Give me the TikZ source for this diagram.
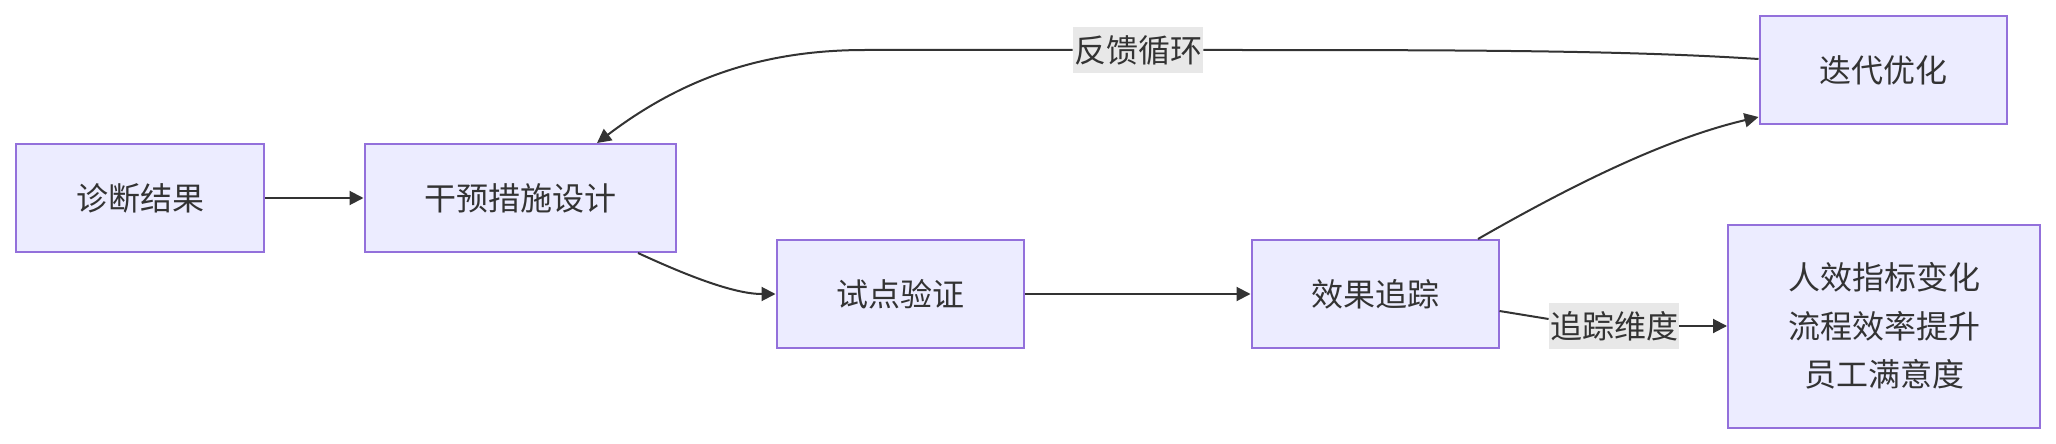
\documentclass[tikz,border=0pt]{standalone}
\usepackage{fontspec}
\usepackage{tikz}
\usetikzlibrary{positioning,calc,arrows.meta}
\newfontfamily\cjk{Noto Sans CJK SC}
\definecolor{boxfill}{RGB}{236,236,255}
\definecolor{boxline}{RGB}{147,112,219}
\definecolor{edgeline}{RGB}{51,51,51}
\definecolor{tagbg}{RGB}{232,232,232}
\tikzset{
  stage/.style={draw=boxline, fill=boxfill, line width=1pt, text=edgeline, minimum height=54pt, inner sep=0pt},
  flow/.style={draw=edgeline, line width=1pt, -{Triangle[length=7pt,width=7pt]}},
  plain/.style={draw=edgeline, line width=1pt},
  tag/.style={fill=tagbg, text=edgeline, inner sep=0.5pt, minimum height=23pt}
}

\begin{document}
\begin{tikzpicture}[x=0.5pt, y=-0.5pt, font=\cjk\fontsize{16}{24.25}\selectfont]
\useasboundingbox (0,0) rectangle (2056,444);
\node[stage, minimum width=124pt] (diag) at (140,198) {诊断结果};
\node[stage, minimum width=155.5pt] (design) at (520,198) {干预措施设计};
\node[stage, minimum width=123.5pt] (pilot) at (900,294) {试点验证};
\node[stage, minimum width=123.5pt] (track) at (1375,294) {效果追踪};
\node[stage, minimum width=123.5pt] (iter) at (1883,70) {迭代优化};
\node[stage, minimum width=156pt, minimum height=101.5pt, align=center] (dims) at (1884,326) {人效指标变化\\流程效率提升\\员工满意度};
\draw[flow] (diag) -- (design);
\draw[flow] ($(design.south)+(118,0)$) .. controls (690,277) and (735,294) .. (pilot.west);
\draw[flow] (pilot) -- (track);
\draw[flow] ($(track.north)+(103,0)$) .. controls (1560,192) and (1660,140) .. ($(iter.south west)+(0,-8)$);
\node[tag] (loop) at (1138,50) {反馈循环};
\draw[plain] ($(iter.west)+(0,-11)$) .. controls (1620,50) and (1450,50) .. (loop.east);
\draw[flow] (loop.west) -- (865,50) .. controls (760,50) and (680,80) .. ($(design.north)+(77,0)$);
\node[tag] (dimtag) at (1614,326) {追踪维度};
\draw[plain] ($(track.east)+(0,17)$) -- ($(dimtag.west)+(0,-7)$);
\draw[flow] (dimtag.east) -- (dims.west);
\end{tikzpicture}
\end{document}
